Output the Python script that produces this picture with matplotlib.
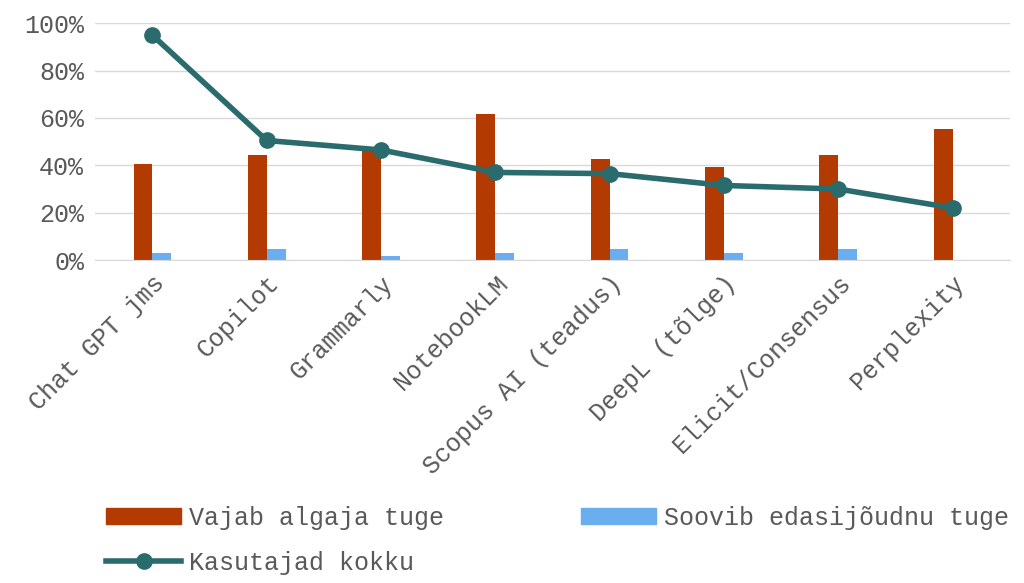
import matplotlib
matplotlib.use("Agg")
import matplotlib.pyplot as plt
import numpy as np
from matplotlib.lines import Line2D
from matplotlib.patches import Patch

categories = ["Chat GPT jms", "Copilot", "Grammarly", "NotebookLM", "Scopus AI (teadus)",
              "DeepL (tõlge)", "Elicit/Consensus", "Perplexity"]
algaja = [40.5, 44.5, 46, 61.5, 42.5, 39.5, 44.5, 55.5]
edasi = [3, 4.5, 1.5, 3, 4.5, 3, 4.5, 0]
kokku = [95, 50.5, 46.5, 37, 36.5, 31.5, 30, 22]

plt.rcParams['font.family'] = ['Liberation Mono', 'DejaVu Sans Mono']
red = "#B33A00"; blue = "#6AAEF0"; teal = "#2A6B6E"; txt = "#595959"
fs = 18

fig = plt.figure(figsize=(10.24, 5.83), dpi=100)
ax = fig.add_axes([0.093, 0.554, 0.893, 0.406])
x = np.arange(len(categories))
w = 0.165
ax.bar(x - w/2, algaja, w, color=red, zorder=2)
ax.bar(x + w/2, edasi, w, color=blue, zorder=2)
ax.plot(x, kokku, color=teal, lw=4, marker='o', ms=11, zorder=3)
ax.set_xlim(-0.5, len(categories) - 0.5)
ax.set_ylim(0, 100)
ax.set_yticks(range(0, 101, 20))
ax.set_yticklabels([f"{v}%" for v in range(0, 101, 20)], fontsize=fs, color=txt)
ax.set_xticks(x)
ax.set_xticklabels(categories, rotation=45, ha='right', rotation_mode='anchor', fontsize=fs, color=txt)
ax.grid(axis='y', color='#D9D9D9', lw=1, zorder=0)
for s in ['top', 'right', 'left']:
    ax.spines[s].set_visible(False)
ax.spines['bottom'].set_color('#D9D9D9')
ax.tick_params(length=0, pad=8)

h1 = Patch(color=red); h2 = Patch(color=blue)
h3 = Line2D([0], [0], color=teal, lw=4, marker='o', ms=11)
fig.legend([h1, h2], ["Vajab algaja tuge", "Soovib edasijõudnu tuge"], loc='center left',
           bbox_to_anchor=(0.082, 0.112), ncol=2, frameon=False, fontsize=fs, columnspacing=5.5,
           handlelength=3.0, handletextpad=0.3, handleheight=0.6, labelcolor=txt)
fig.legend([h3], ["Kasutajad kokku"], loc='center left', bbox_to_anchor=(0.082, 0.034),
           frameon=False, fontsize=fs, handlelength=3.0, handletextpad=0.3, labelcolor=txt)
fig.savefig("out.png", dpi=100)
